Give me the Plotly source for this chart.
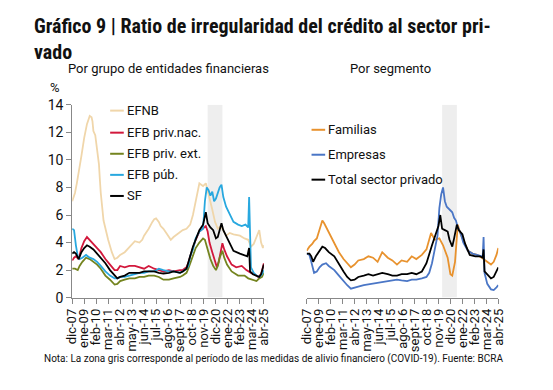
import plotly.graph_objects as go

W, H = 553, 390

# x tick labels (every 13 months from dic-07 to abr-25), x in months since Dec 2007
tick_months = [0, 13, 26, 39, 52, 65, 78, 91, 104, 117, 130, 143, 156, 169, 182, 195, 208]
tick_labels = ["dic-07", "ene-09", "feb-10", "mar-11", "abr-12", "may-13", "jun-14", "jul-15",
               "ago-16", "sept-17", "oct-18", "nov-19", "dic-20", "ene-22", "feb-23", "mar-24", "abr-25"]
covid_start, covid_end = 147, 163

# ---- Left panel: por grupo de entidades financieras ----
efnb_m = [0,3,5,7,10,13,16,19,21,22,23,25,27,29,30,31,34,37,39,43,46,49,52,57,62,68,73,76,78,83,87,89,91,94,96,99,103,107,110,112,117,120,124,128,131,134,136,138,140,142,145,147,149,152,155,158,161,163,167,171,175,182,187,191,194,197,200,203,205,207,208]
efnb_v = [7.0,7.6,8.3,9.0,10.3,11.6,12.6,13.2,13.1,12.8,12.1,11.8,10.7,9.7,8.6,7.6,5.6,4.7,4.2,3.3,2.8,2.9,3.1,3.3,3.7,4.1,4.0,4.2,4.5,5.0,5.5,5.7,5.75,5.5,5.2,5.0,4.6,4.2,4.4,4.5,4.7,4.9,5.0,5.3,6.0,7.1,7.8,8.3,8.2,8.1,8.3,7.8,7.3,6.4,5.5,5.0,5.2,5.0,4.5,4.7,4.6,4.5,4.3,4.2,3.7,3.9,4.4,4.9,4.0,3.6,3.8]

nac_m = [0,2,4,7,10,13,16,19,23,27,31,36,41,46,49,52,57,62,68,73,78,83,89,94,99,105,110,117,120,124,126,128,131,134,138,142,145,147,149,152,154,157,159,161,163,165,168,173,178,184,189,194,198,202,205,208]
nac_v = [2.7,2.9,3.0,2.8,3.6,4.1,4.4,4.2,3.9,3.6,3.3,2.8,2.4,2.0,2.0,2.3,2.2,2.3,2.3,2.2,2.1,2.3,2.1,2.0,1.9,2.0,1.9,2.0,2.0,2.2,2.5,3.0,3.6,4.2,4.8,5.0,5.2,4.8,4.0,3.3,2.8,2.2,2.6,3.3,3.95,3.5,3.0,2.4,2.2,2.3,2.0,1.8,1.7,1.5,1.7,2.5]

ext_m = [0,3,6,8,11,15,19,23,27,31,36,41,46,49,52,57,62,68,73,78,83,89,94,99,105,110,117,120,124,126,128,131,134,138,142,144,147,150,153,156,158,160,163,165,168,173,180,187,191,196,200,203,206,208]
ext_v = [2.1,2.1,2.0,2.3,2.6,2.9,2.8,2.6,2.4,2.1,1.6,1.3,0.95,1.0,1.2,1.3,1.4,1.4,1.5,1.5,1.6,1.6,1.5,1.3,1.3,1.4,1.5,1.6,1.8,2.1,2.5,3.0,3.6,4.0,4.3,4.2,3.5,2.8,2.3,2.0,2.3,2.9,3.4,2.9,2.4,1.9,1.6,1.6,1.4,1.3,1.2,1.4,1.5,1.8]

pub_m = [0,2,4,6,8,11,15,19,23,27,31,36,41,46,49,52,57,62,68,73,78,83,89,94,99,105,110,117,120,124,126,128,131,134,138,142,144,146,148,150,152,154,156,158,160,162,164,167,171,175,180,184,188,191,192,193,194,197,200,203,206,208]
pub_v = [5.0,4.9,3.8,3.0,2.8,2.9,3.1,2.9,2.8,2.6,2.3,1.9,1.6,1.4,1.4,1.5,1.5,1.6,1.7,1.8,1.8,1.9,1.9,2.1,2.0,1.9,1.9,1.8,1.9,2.1,2.3,3.0,3.5,4.3,4.8,5.0,7.0,8.0,7.8,7.4,7.7,7.0,7.2,7.6,8.0,8.2,7.3,6.6,6.0,5.5,5.3,5.2,5.3,5.1,7.3,5.0,2.2,1.8,1.6,1.5,1.7,2.0]

sf_m = [0,2,4,7,10,13,16,19,23,27,31,36,41,46,49,52,57,62,68,73,78,83,89,94,99,105,110,117,120,124,126,128,131,134,138,142,145,147,150,153,156,158,160,162,164,167,171,175,182,187,190,192,193,196,200,203,205,208]
sf_v = [3.2,3.3,3.2,2.8,3.3,3.6,3.8,3.7,3.5,3.2,2.9,2.5,2.0,1.6,1.4,1.5,1.6,1.8,1.8,1.8,1.9,1.9,1.9,1.8,1.75,1.8,1.9,1.8,1.9,2.1,2.5,3.0,3.7,4.2,4.9,5.3,6.2,5.4,5.1,4.9,4.3,4.4,5.0,5.4,4.9,4.5,4.0,3.4,3.2,3.1,3.0,3.6,1.9,1.7,1.6,1.5,1.7,2.4]

# ---- Right panel: por segmento ----
fam_m = [0,3,6,8,11,14,17,19,22,24,30,35,40,44,48,52,56,62,67,72,77,82,88,93,98,103,109,114,119,125,130,135,139,144,148,153,156,158,161,164,167,170,175,180,185,190,192,195,198,200,203,206,208]
fam_v = [3.4,3.7,3.9,4.1,4.3,5.0,5.6,5.4,5.0,4.8,4.0,3.3,2.8,2.5,2.2,2.4,2.7,2.8,3.0,2.9,2.6,3.3,2.9,2.7,2.4,2.7,2.6,3.0,2.8,3.1,3.5,4.7,4.2,4.3,3.8,2.9,1.7,1.6,2.6,5.3,4.6,4.2,3.4,3.2,3.1,2.9,2.8,2.7,2.5,2.4,2.6,3.1,3.6]

emp_m = [0,3,5,8,11,14,17,21,24,30,35,40,44,48,52,56,62,67,72,77,82,88,93,98,103,109,114,119,125,130,133,136,139,142,144,146,148,150,152,155,158,160,162,164,167,170,175,180,185,190,191,192,193,196,200,203,206,208]
emp_v = [3.2,3.1,2.6,1.8,1.9,2.2,2.4,2.5,2.3,2.0,1.6,1.2,0.9,0.65,0.7,0.8,0.9,0.95,1.0,1.05,1.1,1.2,1.2,1.3,1.25,1.2,1.3,1.3,1.4,1.5,1.8,2.5,3.5,4.5,6.5,7.5,8.0,7.0,6.6,6.4,6.2,5.8,5.6,5.1,4.7,4.0,3.4,3.2,3.1,3.0,2.9,4.4,1.8,1.0,0.6,0.55,0.75,0.9]

tot_m = [0,3,5,7,10,14,17,20,24,30,35,40,44,48,52,56,62,67,72,77,82,88,93,98,103,109,114,119,125,130,133,136,140,143,145,147,150,153,155,158,160,163,165,169,172,177,183,188,191,192,193,196,200,203,206,208]
tot_v = [3.2,3.2,3.0,2.6,3.0,3.4,3.7,3.6,3.3,3.0,2.4,1.9,1.5,1.25,1.3,1.5,1.6,1.7,1.6,1.7,1.8,1.7,1.6,1.6,1.7,1.7,1.8,1.7,1.9,2.5,3.2,3.8,4.6,5.2,6.0,5.0,4.9,4.8,4.2,3.7,4.3,5.3,4.9,4.6,3.9,3.1,3.0,3.0,2.9,3.5,1.9,1.7,1.4,1.5,1.9,2.2]

left_series = [
    ("EFNB", efnb_m, efnb_v, "#F0D6AA"),
    ("EFB priv.nac.", nac_m, nac_v, "#D2183C"),
    ("EFB priv. ext.", ext_m, ext_v, "#74841F"),
    ("EFB púb.", pub_m, pub_v, "#28A8DF"),
    ("SF", sf_m, sf_v, "#000000"),
]
right_series = [
    ("Familias", fam_m, fam_v, "#E8922E"),
    ("Empresas", emp_m, emp_v, "#4A76C6"),
    ("Total sector privado", tot_m, tot_v, "#000000"),
]

FONT = "Roboto, Arial, sans-serif"
TFONT = "Roboto Condensed, Liberation Sans Narrow, Roboto, sans-serif"


def px(x):
    return x / W


def py(y):
    return 1 - y / H


fig = go.Figure()
for name, m, v, c in left_series:
    fig.add_trace(go.Scatter(x=m, y=v, mode="lines", name=name, xaxis="x", yaxis="y",
                             line=dict(color=c, width=1.8), showlegend=False))
for name, m, v, c in right_series:
    fig.add_trace(go.Scatter(x=m, y=v, mode="lines", name=name, xaxis="x2", yaxis="y2",
                             line=dict(color=c, width=1.8), showlegend=False))

shapes = []
for xr, yr in (("x", "y"), ("x2", "y2")):
    shapes.append(dict(type="rect", xref=xr, yref=yr, x0=covid_start, x1=covid_end, y0=0, y1=14,
                       fillcolor="#EEEEEE", line=dict(width=0), layer="below"))

annotations = []
# legends (drawn as short line + text)
left_leg_y = [107, 130, 152, 174, 196]
for (name, m, v, c), yy in zip(left_series, left_leg_y):
    shapes.append(dict(type="line", xref="paper", yref="paper", x0=px(105), x1=px(119),
                       y0=py(yy), y1=py(yy), line=dict(color=c, width=2)))
    annotations.append(dict(text=name, x=px(120), y=py(yy), xref="paper", yref="paper",
                            xanchor="left", yanchor="middle", showarrow=False,
                            font=dict(family=FONT, size=13, color="#111")))
right_leg_y = [127, 153, 179]
for (name, m, v, c), yy in zip(right_series, right_leg_y):
    shapes.append(dict(type="line", xref="paper", yref="paper", x0=px(312), x1=px(326),
                       y0=py(yy), y1=py(yy), line=dict(color=c, width=2)))
    annotations.append(dict(text=name, x=px(327), y=py(yy), xref="paper", yref="paper",
                            xanchor="left", yanchor="middle", showarrow=False,
                            font=dict(family=FONT, size=13, color="#111")))

annotations += [
    dict(text="<b>Gráfico 9 | Ratio de irregularidad del crédito al sector pri-<br>vado</b>",
         x=px(25), y=py(4), xref="paper", yref="paper", xanchor="left", yanchor="top",
         align="left", showarrow=False, font=dict(family=TFONT, size=20, color="#111")),
    dict(text="Por grupo de entidades financieras", x=px(165), y=py(63), xref="paper", yref="paper",
         xanchor="center", yanchor="middle", showarrow=False, font=dict(family=FONT, size=13, color="#111")),
    dict(text="Por segmento", x=px(393), y=py(63), xref="paper", yref="paper",
         xanchor="center", yanchor="middle", showarrow=False, font=dict(family=FONT, size=13, color="#111")),
    dict(text="%", x=px(48), y=py(83), xref="paper", yref="paper",
         xanchor="center", yanchor="middle", showarrow=False, font=dict(family=FONT, size=13, color="#111")),
    dict(text="Nota: La zona gris corresponde al período de las medidas de alivio financiero (COVID-19). Fuente: BCRA",
         x=px(35), y=py(366), xref="paper", yref="paper", xanchor="left", yanchor="middle",
         showarrow=False, font=dict(family=FONT, size=10, color="#111")),
]

xcommon = dict(range=[0, 208], tickmode="array", tickvals=tick_months, ticktext=tick_labels,
               tickangle=-90, ticks="outside", ticklen=5, tickcolor="#888", showline=True,
               linecolor="#888", linewidth=1, showgrid=False, zeroline=False,
               tickfont=dict(family=FONT, size=13, color="#111"))
ydom = [py(302), py(101)]

fig.update_layout(
    width=W, height=H, autosize=False,
    margin=dict(l=0, r=0, t=0, b=0),
    paper_bgcolor="white", plot_bgcolor="white",
    showlegend=False,
    xaxis=dict(domain=[px(66), px(263)], anchor="y", **xcommon),
    xaxis2=dict(domain=[px(307), px(504)], anchor="y2", **xcommon),
    yaxis=dict(domain=ydom, anchor="x", range=[0, 14], tickvals=[0, 2, 4, 6, 8, 10, 12, 14],
               ticks="outside", ticklen=5, tickcolor="#888", showline=True, linecolor="#888",
               showgrid=False, zeroline=False, tickfont=dict(family=FONT, size=14, color="#111")),
    yaxis2=dict(domain=ydom, anchor="x2", range=[0, 14], showticklabels=False, ticks="",
                showline=False, showgrid=False, zeroline=False),
    shapes=shapes,
    annotations=annotations,
)

fig.write_html("out.html", config={"displayModeBar": False},
               post_script="document.body.style.margin='0';")
